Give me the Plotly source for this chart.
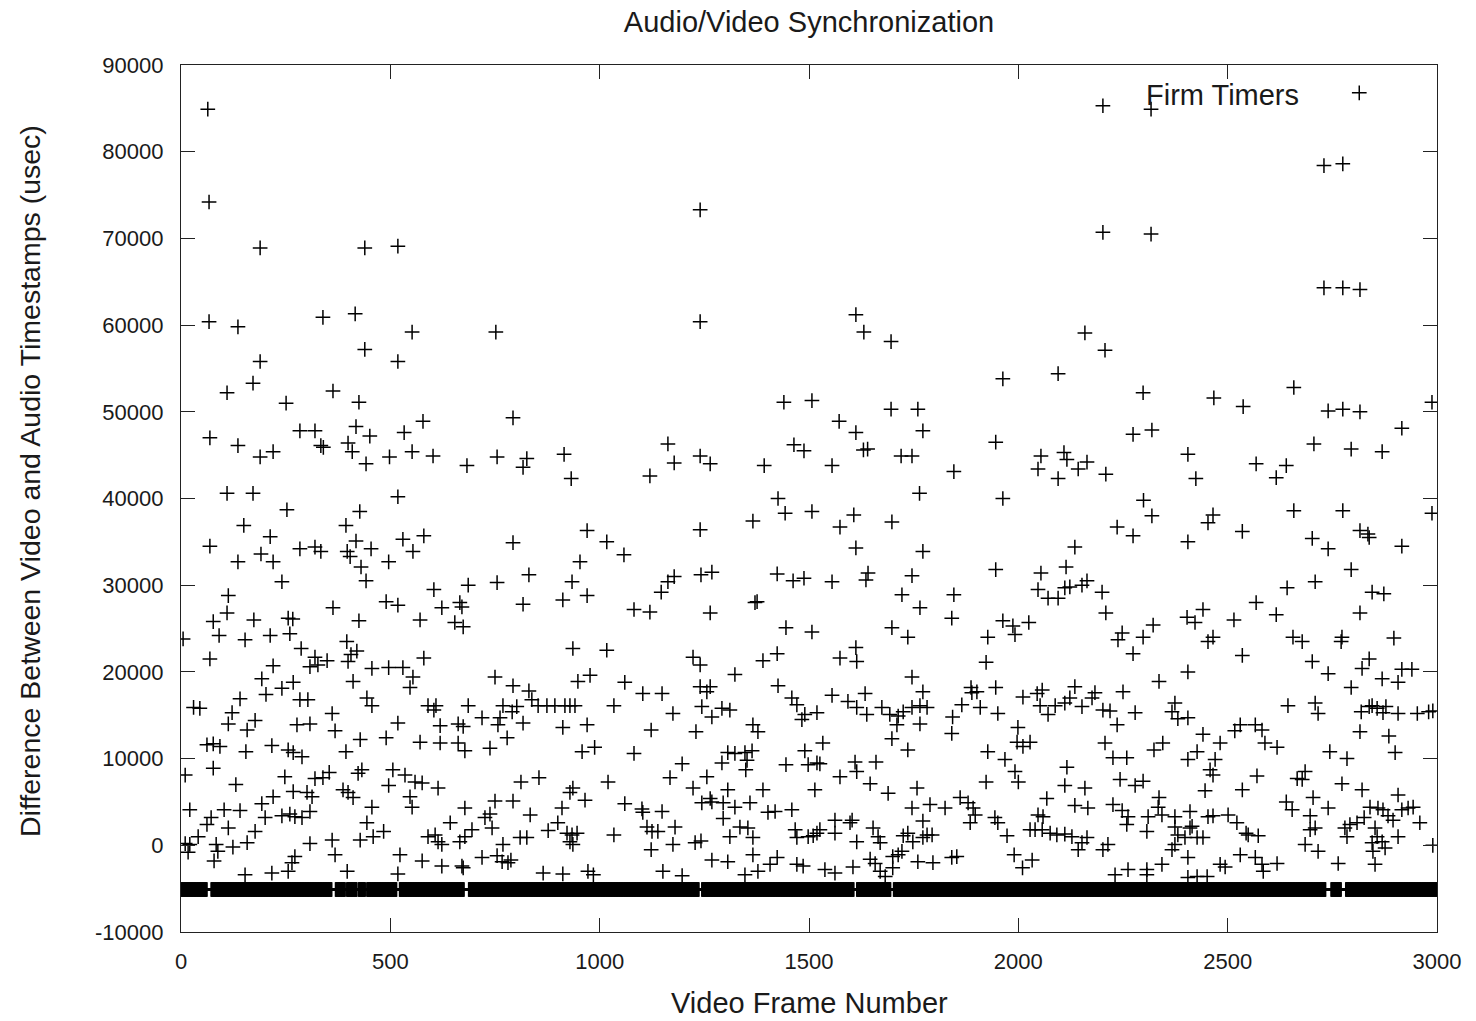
import plotly.graph_objects as go

# ---------------- data ----------------
frames = [
    # upper area
    64, 67, 189, 439, 67, 136, 339, 416, 439, 189, 172, 110, 363, 425, 251, 69, 136, 189, 220, 284,
    320, 334, 340, 399, 409, 418, 451, 442, 498, 110, 172,
    518, 552, 752, 518, 578, 533, 793, 552, 602, 683, 755, 826, 817, 915, 932, 518,
    1240, 1240, 1440, 1163, 1178, 1240, 1264, 1120, 1393, 1464, 1488, 1426,
    1612, 1631, 1696, 1963, 1507, 1696, 1760, 1572, 1612, 1772, 1946, 1630, 1640, 1720, 1746, 1555,
    1846, 1764, 1963,
    2202, 2317, 2202, 2317, 2159, 2207, 2095, 2298, 2467, 2274, 2319, 2405, 2054, 2109, 2116, 2164,
    2143, 2047, 2095, 2209, 2424, 2299,
    2730, 2775, 2730, 2775, 2816, 2658, 2537, 2740, 2775, 2816, 2988, 2916, 2706, 2795, 2869, 2568,
    2640, 2616,
    # 0 - 500
    253, 427, 150, 394, 213, 69, 418, 284, 320, 334, 397, 404, 454, 191, 136, 220, 496, 430, 442, 241,
    113, 490, 363, 77, 110, 174, 256, 267, 425, 5, 91, 153, 213, 260, 396, 287, 420, 320, 349, 327,
    308, 406, 399, 69, 220, 456, 496, 193, 268, 241, 203, 411, 284, 303, 141, 444, 456, 30, 45, 122,
    361, 113, 177, 158, 277, 308, 368, 428, 490, 62, 77, 93, 155, 217, 256, 268, 289, 394, 10, 77,
    131, 248, 320, 339, 354, 423, 432, 496, 387, 399, 411, 268, 301, 313, 220, 193, 21, 103, 141, 456,
    241, 260, 272, 289, 308, 201, 62, 72, 113, 177, 444, 428, 459, 484, 41, 10, 21, 17, 84, 88,
    79, 124, 158, 308, 361, 368, 272, 265, 256, 397, 153, 217,
    # 500 - 1000
    970, 530, 580, 554, 793, 953, 831, 934, 604, 686, 755, 518, 623, 666, 671, 817, 912, 970, 571, 654,
    674, 936, 580, 530, 554, 547, 750, 793, 831, 948, 977, 590, 609, 604, 686, 769, 802, 838, 853, 874,
    893, 917, 929, 941, 719, 762, 791, 757, 817, 518, 619, 662, 674, 912, 970, 571, 619, 662, 678, 738,
    779, 958, 988, 506, 535, 559, 576, 614, 547, 552, 812, 855, 936, 929, 793, 750, 738, 965, 678, 910,
    834, 643, 726, 900, 877, 922, 934, 946, 695, 678, 666, 743, 590, 607, 614, 623, 810, 826, 769, 929,
    936, 523, 576, 623, 671, 674, 719, 755, 767, 781, 788, 518, 865, 912, 972, 985,
    # 1000 - 1500
    1443, 1366, 1240, 1017, 1058, 1178, 1163, 1147, 1242, 1268, 1424, 1462, 1488, 1371, 1376, 1082, 1120, 1264, 1445, 1017,
    1223, 1240, 1390, 1424, 1323, 1060, 1103, 1149, 1240, 1264, 1256, 1426, 1459, 1471, 1490, 1483, 1034, 1175, 1244, 1268,
    1292, 1311, 1123, 1230, 1366, 1378, 1082, 1364, 1347, 1323, 1306, 1352, 1349, 1197, 1292, 1445, 1490, 1498, 1020, 1168,
    1256, 1223, 1306, 1390, 1060, 1101, 1103, 1149, 1244, 1264, 1268, 1295, 1323, 1359, 1402, 1419, 1459, 1180, 1113, 1125,
    1139, 1295, 1311, 1335, 1354, 1366, 1467, 1471, 1498, 1034, 1175, 1123, 1228, 1242, 1268, 1306, 1366, 1407, 1424, 1471,
    1486, 1151, 1197, 1347, 1378,
    # 1500 - 2000
    1507, 1607, 1574, 1698, 1612, 1772, 1555, 1641, 1636, 1746, 1946, 1722, 1765, 1846, 1841, 1963, 1987, 1992, 1927, 1507,
    1698, 1736, 1612, 1614, 1574, 1923, 1746, 1772, 1887, 1901, 1946, 1555, 1634, 1593, 1614, 1638, 1674, 1693, 1713, 1725,
    1746, 1765, 1782, 1710, 1765, 1519, 1843, 1865, 1889, 1909, 1951, 1841, 1698, 1736, 1533, 1519, 1526, 1610, 1614, 1660,
    1574, 1646, 1689, 1514, 1927, 1968, 1992, 2000, 1923, 1758, 1746, 1789, 1825, 1861, 1880, 1892, 1897, 1885, 1944, 1951,
    1973, 1562, 1603, 1598, 1772, 1526, 1519, 1510, 1562, 1653, 1665, 1670, 1614, 1725, 1736, 1748, 1772, 1782, 1794, 1990,
    1722, 1713, 1700, 1538, 1562, 1605, 1646, 1658, 1670, 1682, 1700, 1760, 1796, 1841, 1853,
    # 2000 - 2500
    2319, 2465, 2453, 2236, 2274, 2405, 2135, 2054, 2114, 2047, 2071, 2095, 2111, 2123, 2152, 2164, 2200, 2209, 2025, 2248,
    2238, 2274, 2298, 2322, 2441, 2403, 2422, 2465, 2453, 2405, 2336, 2250, 2011, 2045, 2057, 2052, 2071, 2088, 2111, 2123,
    2135, 2152, 2176, 2183, 2202, 2219, 2236, 2279, 2374, 2367, 2381, 2405, 1999, 1997, 2028, 2011, 2207, 2226, 2259, 2324,
    2345, 2441, 2482, 2427, 2405, 2470, 2458, 2465, 2116, 2111, 2159, 2243, 2279, 2298, 2446, 2068, 2135, 2166, 2226, 2248,
    2262, 2259, 2336, 2334, 2310, 2343, 2374, 2410, 2415, 2453, 2465, 2501, 2047, 2059, 2040, 2028, 2057, 2076, 2092, 2111,
    2128, 2164, 2152, 2143, 2202, 2214, 2307, 2374, 2381, 2398, 2374, 2367, 2410, 2427, 2441, 2405, 2010, 2033, 2231, 2262,
    2307, 2307, 2343, 2405, 2427, 2451, 2482, 2494,
    # 2500 - 3000
    2658, 2775, 2988, 2535, 2702, 2740, 2816, 2835, 2838, 2916, 2795, 2642, 2709, 2845, 2873, 2568, 2515, 2616, 2816, 2656,
    2678, 2773, 2771, 2897, 2535, 2702, 2740, 2838, 2821, 2795, 2869, 2907, 2916, 2940, 2644, 2709, 2716, 2819, 2838, 2845,
    2857, 2871, 2878, 2907, 2953, 2980, 2990, 2816, 2885, 2900, 2517, 2530, 2566, 2582, 2589, 2618, 2744, 2785, 2570, 2535,
    2685, 2666, 2678, 2773, 2821, 2907, 2704, 2740, 2640, 2654, 2697, 2697, 2709, 2685, 2716, 2522, 2544, 2549, 2573, 2530,
    2566, 2582, 2585, 2618, 2764, 2780, 2792, 2785, 2809, 2826, 2840, 2859, 2871, 2883, 2895, 2916, 2931, 2943, 2959, 2852,
    2857, 2845, 2847, 2869, 2876, 2907, 2852, 2990,
]

delays = [
    # upper area
    84900, 74200, 68900, 68900, 60400, 59800, 60900, 61300, 57200, 55800, 53300, 52200, 52400, 51100, 51000, 47000, 46100, 44800, 45400, 47800,
    47800, 46100, 45900, 46400, 45400, 48300, 47200, 44000, 44800, 40600, 40600,
    69100, 59200, 59200, 55800, 48900, 47600, 49300, 45400, 44900, 43800, 44800, 44600, 43600, 45100, 42300, 40200,
    73300, 60400, 51100, 46300, 44100, 44900, 44000, 42600, 43800, 46200, 45500, 40000,
    61200, 59200, 58100, 53800, 51300, 50300, 50300, 48900, 47600, 47800, 46500, 45600, 45700, 44900, 44900, 43800,
    43100, 40600, 40000,
    85300, 84900, 70700, 70500, 59100, 57100, 54400, 52200, 51600, 47400, 47900, 45100, 44900, 45300, 44500, 44200,
    43400, 43400, 42300, 42800, 42300, 39800,
    78400, 78600, 64300, 64300, 64100, 52800, 50600, 50100, 50300, 50000, 51100, 48100, 46300, 45700, 45400, 44000,
    43800, 42400,
    # 0 - 500
    38700, 38500, 36900, 36900, 35600, 34500, 35100, 34200, 34400, 33900, 33900, 33300, 34200, 33600, 32700, 32700, 32700, 32100, 30500, 30400,
    28800, 28100, 27400, 25800, 26800, 26000, 26200, 26100, 25900, 23800, 24200, 23700, 24200, 24400, 23500, 22700, 22400, 21700, 21300, 20800,
    20600, 22000, 21200, 21500, 20700, 20400, 20500, 19200, 18800, 18100, 17400, 18900, 16800, 16800, 16900, 17000, 16100, 15900, 15800, 15300,
    15200, 14000, 14400, 13300, 13900, 14000, 13200, 12200, 12400, 11600, 11700, 11400, 10800, 11500, 11000, 10700, 10200, 10800, 8100, 8900,
    7000, 7900, 7700, 7800, 8400, 8300, 8700, 6900, 6400, 6100, 5500, 6200, 6100, 5600, 5600, 4800, 4100, 4100, 4000, 4400,
    3400, 3600, 3300, 3200, 3900, 3200, 2400, 3200, 2000, 1600, 2600, 600, 1000, 1600, 1000, 200, 100, -800, 100, -700,
    -1800, -200, 300, 200, 600, -1100, -1300, -2000, -3000, -3000, -3400, -3200,
    # 500 - 1000
    36300, 35300, 35700, 33900, 34900, 32700, 31200, 30400, 29500, 30000, 30300, 27700, 27400, 28000, 27500, 27800, 28300, 28800, 26000, 25700,
    25200, 22700, 21600, 20500, 19400, 18200, 19400, 18400, 17800, 18900, 19600, 16100, 16100, 15600, 16100, 16100, 16000, 16800, 16100, 16100,
    16100, 16100, 16100, 16100, 14700, 14700, 15400, 13900, 14100, 14100, 13800, 14000, 13700, 13600, 13900, 11900, 11800, 11800, 10900, 11200,
    12400, 10800, 11300, 8700, 8100, 7300, 7200, 6600, 5600, 4400, 7300, 7800, 6600, 6100, 5100, 5100, 3600, 5200, 4300, 4300,
    3500, 2600, 3200, 2600, 1700, 1400, 1200, 1400, 1800, 1000, 400, 2000, 1000, 1200, 400, 100, 900, 900, 100, 400,
    100, -1100, -1800, -2400, -2400, -2600, -1400, -1200, -1900, -2000, -1700, -3300, -3200, -3300, -3000, -3400,
    # 1000 - 1500
    38300, 37400, 36400, 35000, 33500, 31000, 30400, 29200, 31200, 31500, 31300, 30500, 30800, 28000, 28100, 27200, 26900, 26800, 25100, 22500,
    21700, 20800, 21300, 22100, 19700, 18800, 17500, 17500, 18300, 18300, 17700, 18400, 17000, 16200, 15100, 14500, 16100, 15200, 16000, 14800,
    15800, 15600, 13300, 13100, 13900, 13100, 10600, 10900, 10700, 10600, 10700, 9800, 8700, 9400, 9500, 9300, 10900, 9300, 7300, 7800,
    7900, 6600, 6400, 6400, 4800, 4200, 3800, 3900, 4900, 5400, 5000, 4900, 4400, 4900, 3800, 3900, 4100, 2100, 2100, 1600,
    1600, 3100, 1000, 2100, 2000, 900, 1800, 900, 1000, 1200, 100, -500, 300, 500, -1700, -1900, -1100, -2200, -1400, -2200,
    -2400, -3000, -3500, -3400, -3000,
    # 1500 - 2000
    38500, 38100, 36700, 37300, 34300, 33900, 30400, 31400, 30600, 31100, 31800, 28900, 27400, 28900, 26200, 25900, 25300, 24300, 24000, 24600,
    25100, 24000, 22800, 21200, 21600, 21100, 19400, 17700, 18200, 17700, 18200, 17300, 17500, 16600, 15900, 15100, 15900, 15100, 14900, 15400,
    15900, 16100, 15900, 13900, 14000, 15300, 14800, 16200, 17600, 15900, 15200, 12900, 12300, 11000, 11800, 9500, 9400, 9600, 8500, 9600,
    7900, 7100, 6000, 6400, 10800, 9900, 8500, 7300, 7300, 6600, 4300, 4700, 4300, 5500, 4900, 4300, 3500, 2600, 3200, 2600,
    1100, 2900, 2900, 2600, 2800, 1800, 1400, 1100, 1400, 2000, 1000, 300, 400, 1100, 1400, 400, 900, 1200, 1200, -1100,
    -700, -1100, -1300, -2800, -3200, -2500, -1600, -2100, -3000, -3600, -2600, -1900, -2000, -1400, -1300,
    # 2000 - 2500
    38000, 38100, 37200, 36700, 35700, 35000, 34400, 31400, 32100, 29500, 28500, 28500, 29700, 29800, 30000, 30500, 29200, 26800, 25700, 24500,
    23700, 22100, 24000, 25400, 27200, 26300, 25700, 24000, 23500, 20000, 18900, 17700, 17100, 17500, 17900, 16100, 15100, 16100, 16400, 17000,
    18300, 16000, 17000, 17600, 15600, 15500, 13900, 15300, 16400, 15400, 14600, 14700, 13600, 11900, 11900, 11400, 11800, 10100, 10100, 11000,
    11800, 12800, 11800, 10800, 9900, 9900, 8700, 8100, 9000, 6900, 6600, 7600, 6900, 7400, 6300, 5400, 4600, 4300, 4700, 4000,
    3300, 2400, 5500, 4400, 3300, 3500, 3300, 3900, 2200, 3300, 3400, 3500, 3500, 3300, 1800, 1800, 1800, 1400, 1200, 1300,
    1000, 900, 300, -500, -500, 100, 1600, 2100, 1200, 900, 100, -500, 2000, 900, 900, -1400, -2600, -1700, -3400, -2800,
    -2800, -3400, -2200, -3700, -3600, -3600, -2200, -2500,
    # 2500 - 3000
    38600, 38600, 38300, 36200, 35400, 34200, 36300, 35900, 35500, 34500, 31800, 29700, 30400, 29200, 29000, 28000, 26000, 26600, 26800, 24000,
    23500, 24000, 23500, 23900, 21900, 21200, 19800, 21500, 20400, 18200, 19200, 18800, 20300, 20300, 16100, 16400, 15200, 15400, 16000, 16100,
    15800, 15300, 16000, 15200, 15200, 15400, 15500, 13100, 12600, 10700, 13200, 13900, 13900, 13300, 11800, 11300, 10800, 10000, 8000, 6400,
    8500, 7700, 7600, 7100, 6400, 5800, 5500, 4300, 5000, 4100, 3400, 1800, 2000, 100, -700, 2600, 1400, 1200, 1100, -1100,
    -1400, -2200, -3000, -2100, -2100, 2000, 2400, 1000, 2600, 3200, 4400, 4300, 4100, 3400, 2900, 4100, 4300, 4400, 2600, 2000,
    1000, 300, -700, 400, -300, 1000, -2200, 0,
]

# frames whose difference sits on the floor value (dense band), as runs of frame numbers
floor_value = -5100
floor_runs = [(0, 62), (72, 360), (369, 392), (396, 420), (424, 440), (444, 515), (522, 676),
              (687, 1237), (1244, 1607), (1614, 1695), (1702, 2734), (2747, 2771), (2782, 3000)]

x_ticks = [0, 500, 1000, 1500, 2000, 2500, 3000]
y_ticks = [-10000, 0, 10000, 20000, 30000, 40000, 50000, 60000, 70000, 80000, 90000]

title_text = "Audio/Video Synchronization"
x_label = "Video Frame Number"
y_label = "Difference Between Video and Audio Timestamps (usec)"
series_name = "Firm Timers"

# ---------------- figure ----------------
floor_frames = [f for a, b in floor_runs for f in range(a, b + 1)]
all_x = floor_frames + frames
all_y = [floor_value] * len(floor_frames) + delays

FONT = "Liberation Sans, Arial, sans-serif"
TXT = "#1a1a1a"
LBL = 29

W, H = 1476, 1021
px_left, px_right, px_top, px_bottom = 181, 1437, 65, 932  # plot area in page pixels
L, T, R, B = px_left, px_top, W - px_right, H - px_bottom
pw, ph = px_right - px_left, px_bottom - px_top


def paper_x(page_x):
    return (page_x - px_left) / pw


def paper_y(page_y):
    return (px_bottom - page_y) / ph


fig = go.Figure()
fig.add_trace(go.Scatter(
    x=all_x, y=all_y, mode="markers", name="",
    marker=dict(symbol="cross-thin", size=10.5, color="black",
                line=dict(width=1.5, color="black")),
    showlegend=True,
))

axis_common = dict(
    showgrid=False, zeroline=False, showline=True, linecolor="#222", linewidth=1.3,
    mirror="ticks", ticks="inside", ticklen=14, tickwidth=1.3, tickcolor="#222",
    tickfont=dict(family=FONT, size=22, color=TXT), automargin=False,
)

fig.update_layout(
    width=W, height=H, autosize=False,
    margin=dict(l=L, r=R, t=T, b=B, pad=0, autoexpand=False),
    paper_bgcolor="white", plot_bgcolor="white",
    font=dict(family=FONT, color=TXT),
    title=dict(text=title_text, x=0.5, xref="paper", xanchor="center",
               y=1 - 22 / H, yref="container", yanchor="middle",
               font=dict(family=FONT, size=LBL, color=TXT)),
    xaxis=dict(range=[0, 3000], tickvals=x_ticks, ticktext=[str(v) for v in x_ticks],
               ticklabelstandoff=9, **axis_common),
    yaxis=dict(range=[-10000, 90000], tickvals=y_ticks, ticktext=[str(v) for v in y_ticks],
               ticklabelstandoff=12, **axis_common),
    legend=dict(title=dict(text=series_name + "&nbsp;&nbsp;&nbsp;&nbsp;", side="left",
                           font=dict(family=FONT, size=LBL, color=TXT)),
                x=paper_x(1385), xanchor="right", y=paper_y(93), yanchor="middle",
                bgcolor="rgba(0,0,0,0)", borderwidth=0, font=dict(size=LBL)),
    showlegend=True,
    hovermode=False,
    annotations=[
        dict(text=x_label, xref="paper", yref="paper", x=0.5, y=paper_y(1003),
             xanchor="center", yanchor="middle", showarrow=False,
             font=dict(family=FONT, size=LBL, color=TXT)),
        dict(text=y_label, xref="paper", yref="paper", x=paper_x(30), y=paper_y(481),
             xanchor="center", yanchor="middle", showarrow=False, textangle=-90,
             font=dict(family=FONT, size=28.5, color=TXT)),
    ],
)

# remove the browser's default 8px page margin so the figure fills the window exactly
fig.write_html("out.html",
               config={"displayModeBar": False},
               post_script="document.body.style.margin='0';document.body.style.overflow='hidden';")
